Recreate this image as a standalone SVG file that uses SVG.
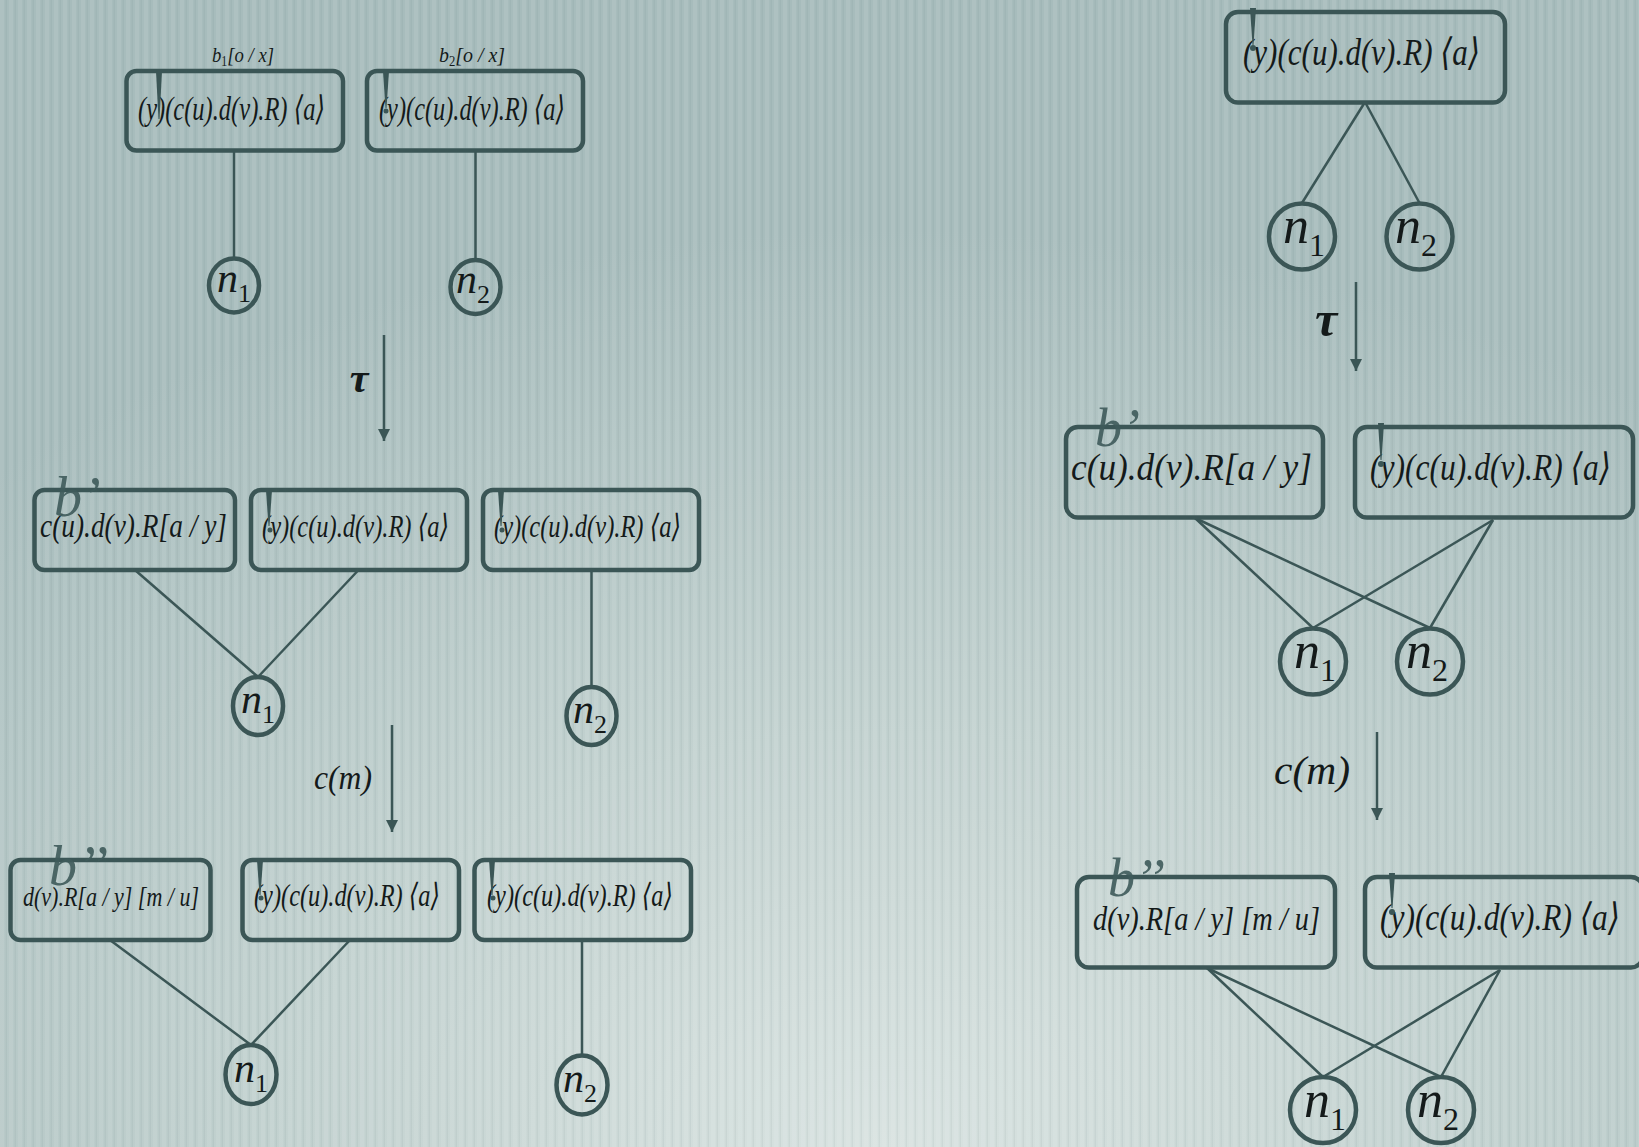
<svg xmlns="http://www.w3.org/2000/svg" width="1639" height="1147" viewBox="0 0 1639 1147">
  <defs>
    <radialGradient id="bgGrad" cx="0.54" cy="1.0" r="0.8" gradientUnits="objectBoundingBox">
      <stop offset="0" stop-color="#d9e3e1"/>
      <stop offset="0.45" stop-color="#c3d2d0"/>
      <stop offset="1" stop-color="#a7bcbc"/>
    </radialGradient>
    <pattern id="stripes" width="9" height="20" patternUnits="userSpaceOnUse">
      <rect x="0" y="0" width="4" height="20" fill="#ffffff" opacity="0.08"/>
      <rect x="5.5" y="0" width="1.5" height="20" fill="#4a6464" opacity="0.07"/>
    </pattern>
    <marker id="arrowDown" markerUnits="userSpaceOnUse" markerWidth="12" markerHeight="12" refX="6" refY="12" orient="0" viewBox="0 0 12 12">
      <path d="M0,0 L12,0 L6,12 Z" fill="#3b5656"/>
    </marker>
  </defs>
  <style>
    .box { fill: none; stroke: #3b5656; stroke-width: 4.5; }
    .node { fill: none; stroke: #3b5656; stroke-width: 4.5; }
    .edge { stroke: #3b5656; stroke-width: 2.5; fill: none; }
    .step { stroke: #3b5656; stroke-width: 2.5; fill: none; marker-end: url(#arrowDown); }
    .nu { fill: #3b5656; }
    text { font-family: "Liberation Serif", "DejaVu Serif", serif; fill: #141a1a; font-style: italic; }
    .up { font-style: normal; }
    .lbl { fill: #3f5b5b; opacity: 0.9; }
    .tau { font-weight: bold; }
  </style>

  <!-- backdrop -->
  <rect width="1639" height="1147" fill="url(#bgGrad)"/>
  <rect width="1639" height="1147" fill="url(#stripes)"/>

  <!-- connectors -->
  <g id="connectors">
    <!-- left, row 1 -->
    <line class="edge" x1="234" y1="150" x2="234" y2="258"/>
    <line class="edge" x1="475.5" y1="150" x2="475.5" y2="260"/>
    <!-- left, row 2 -->
    <line class="edge" x1="135" y1="570" x2="258" y2="677"/>
    <line class="edge" x1="358.5" y1="570" x2="258" y2="677"/>
    <line class="edge" x1="591.5" y1="570" x2="591.5" y2="687"/>
    <!-- left, row 3 -->
    <line class="edge" x1="110" y1="940" x2="251" y2="1045"/>
    <line class="edge" x1="350" y1="940" x2="251" y2="1045"/>
    <line class="edge" x1="582" y1="940" x2="582" y2="1056"/>
    <!-- right, top -->
    <line class="edge" x1="1365" y1="102" x2="1302" y2="203"/>
    <line class="edge" x1="1365" y1="102" x2="1419.5" y2="203"/>
    <!-- right, row 2 -->
    <line class="edge" x1="1195" y1="518" x2="1313" y2="628"/>
    <line class="edge" x1="1195" y1="518" x2="1430" y2="628"/>
    <line class="edge" x1="1493" y1="520" x2="1313" y2="628"/>
    <line class="edge" x1="1493" y1="520" x2="1430" y2="628"/>
    <!-- right, row 3 -->
    <line class="edge" x1="1207" y1="968" x2="1323" y2="1077"/>
    <line class="edge" x1="1207" y1="968" x2="1441" y2="1077"/>
    <line class="edge" x1="1500" y1="970" x2="1323" y2="1077"/>
    <line class="edge" x1="1500" y1="970" x2="1441" y2="1077"/>
    <!-- transition arrows -->
    <line class="step" x1="384" y1="335" x2="384" y2="441"/>
    <line class="step" x1="392" y1="725" x2="392" y2="832"/>
    <line class="step" x1="1356" y1="282" x2="1356" y2="371"/>
    <line class="step" x1="1377" y1="732" x2="1377" y2="820"/>
  </g>

  <!-- transition labels -->
  <g id="step-labels">
    <text class="tau" x="359" y="392" font-size="42" text-anchor="middle">τ</text>
    <text x="343" y="789" font-size="34" text-anchor="middle" textLength="58" lengthAdjust="spacingAndGlyphs">c(m)</text>
    <text class="tau" x="1326" y="336" font-size="50" text-anchor="middle">τ</text>
    <text x="1312" y="784" font-size="40" text-anchor="middle" textLength="76" lengthAdjust="spacingAndGlyphs">c(m)</text>
  </g>

  <!-- left column, row 1 -->
  <g id="L1-box1">
    <text x="243" y="62" font-size="22" text-anchor="middle" textLength="62" lengthAdjust="spacingAndGlyphs">b<tspan class="up" font-size="14" dy="4">1</tspan><tspan dy="-4">[o / x]</tspan></text>
    <rect class="box" x="126.5" y="71" width="216.5" height="79.5" rx="10"/>
    <text x="138" y="120" font-size="34" textLength="187" lengthAdjust="spacingAndGlyphs">(y)(c(u).d(v).R) ⟨a⟩</text>
    <polygon class="nu" points="156,71 162,71 159.5,119 158.5,119"/>
  </g>
  <g id="L1-box2">
    <text x="472" y="62" font-size="22" text-anchor="middle" textLength="66" lengthAdjust="spacingAndGlyphs">b<tspan class="up" font-size="14" dy="4">2</tspan><tspan dy="-4">[o / x]</tspan></text>
    <rect class="box" x="367" y="71" width="216" height="79.5" rx="10"/>
    <text x="379" y="120" font-size="34" textLength="186" lengthAdjust="spacingAndGlyphs">(y)(c(u).d(v).R) ⟨a⟩</text>
    <polygon class="nu" points="383,71 389,71 386.5,108 385.5,108"/>
    <circle class="nu" cx="386" cy="111" r="2.5"/>
  </g>
  <g id="L1-n1">
    <ellipse class="node" cx="234" cy="285.5" rx="25" ry="27"/>
    <text x="234" y="292" font-size="42" text-anchor="middle">n<tspan class="up" font-size="26" dy="10">1</tspan></text>
  </g>
  <g id="L1-n2">
    <ellipse class="node" cx="475.5" cy="287" rx="25" ry="27"/>
    <text x="473" y="293" font-size="42" text-anchor="middle">n<tspan class="up" font-size="26" dy="10">2</tspan></text>
  </g>

  <!-- left column, row 2 -->
  <g id="L2-box1">
    <rect class="box" x="34.5" y="490" width="200.5" height="80" rx="10"/>
    <text x="40" y="537" font-size="34" textLength="187" lengthAdjust="spacingAndGlyphs">c(u).d(v).R[a / y]</text>
    <text class="lbl" x="54" y="516" font-size="56">b’</text>
  </g>
  <g id="L2-box2">
    <rect class="box" x="251" y="490" width="216" height="80" rx="10"/>
    <text x="262" y="537" font-size="32" textLength="187" lengthAdjust="spacingAndGlyphs">(y)(c(u).d(v).R) ⟨a⟩</text>
    <polygon class="nu" points="266,490 272,490 269.5,526 268.5,526"/>
    <circle class="nu" cx="270" cy="530" r="2.5"/>
  </g>
  <g id="L2-box3">
    <rect class="box" x="483" y="490" width="216" height="80" rx="10"/>
    <text x="494" y="537" font-size="32" textLength="187" lengthAdjust="spacingAndGlyphs">(y)(c(u).d(v).R) ⟨a⟩</text>
    <polygon class="nu" points="498,490 504,490 501.5,526 500.5,526"/>
    <circle class="nu" cx="502" cy="530" r="2.5"/>
  </g>
  <g id="L2-n1">
    <ellipse class="node" cx="258" cy="706" rx="25" ry="29"/>
    <text x="258" y="713" font-size="42" text-anchor="middle">n<tspan class="up" font-size="26" dy="10">1</tspan></text>
  </g>
  <g id="L2-n2">
    <ellipse class="node" cx="591.5" cy="716" rx="25" ry="29"/>
    <text x="590" y="723" font-size="42" text-anchor="middle">n<tspan class="up" font-size="26" dy="10">2</tspan></text>
  </g>

  <!-- left column, row 3 -->
  <g id="L3-box1">
    <rect class="box" x="10.5" y="860" width="200" height="80" rx="10"/>
    <text x="23" y="906" font-size="28" textLength="176" lengthAdjust="spacingAndGlyphs">d(v).R[a / y] [m / u]</text>
    <text class="lbl" x="49" y="885" font-size="56">b’’</text>
  </g>
  <g id="L3-box2">
    <rect class="box" x="242.5" y="860" width="216.5" height="80" rx="10"/>
    <text x="254" y="906" font-size="32" textLength="186" lengthAdjust="spacingAndGlyphs">(y)(c(u).d(v).R) ⟨a⟩</text>
    <polygon class="nu" points="257,860 263,860 260.5,895 259.5,895"/>
    <circle class="nu" cx="261" cy="898" r="2.5"/>
  </g>
  <g id="L3-box3">
    <rect class="box" x="474.5" y="860" width="216.5" height="80" rx="10"/>
    <text x="487" y="906" font-size="32" textLength="186" lengthAdjust="spacingAndGlyphs">(y)(c(u).d(v).R) ⟨a⟩</text>
    <polygon class="nu" points="489,860 495,860 492.5,895 491.5,895"/>
    <circle class="nu" cx="493" cy="898" r="2.5"/>
  </g>
  <g id="L3-n1">
    <ellipse class="node" cx="251" cy="1074.5" rx="25.5" ry="29.5"/>
    <text x="251" y="1082" font-size="42" text-anchor="middle">n<tspan class="up" font-size="26" dy="10">1</tspan></text>
  </g>
  <g id="L3-n2">
    <ellipse class="node" cx="582" cy="1085" rx="25.5" ry="29.5"/>
    <text x="580" y="1092" font-size="42" text-anchor="middle">n<tspan class="up" font-size="26" dy="10">2</tspan></text>
  </g>

  <!-- right column, top -->
  <g id="R1-box">
    <rect class="box" x="1226" y="12" width="279" height="90.5" rx="12"/>
    <text x="1243" y="65" font-size="38" textLength="237" lengthAdjust="spacingAndGlyphs">(y)(c(u).d(v).R) ⟨a⟩</text>
    <polygon class="nu" points="1250,8 1256,8 1253.5,45 1252.5,45"/>
    <circle class="nu" cx="1253" cy="48" r="3"/>
  </g>
  <g id="R1-n1">
    <circle class="node" cx="1302" cy="236.5" r="33"/>
    <text x="1304" y="243" font-size="52" text-anchor="middle">n<tspan class="up" font-size="32" dy="13">1</tspan></text>
  </g>
  <g id="R1-n2">
    <circle class="node" cx="1419.5" cy="236.5" r="33"/>
    <text x="1416" y="243" font-size="52" text-anchor="middle">n<tspan class="up" font-size="32" dy="13">2</tspan></text>
  </g>

  <!-- right column, row 2 -->
  <g id="R2-box1">
    <rect class="box" x="1066" y="427" width="257" height="90.5" rx="12"/>
    <text x="1071" y="480" font-size="38" textLength="241" lengthAdjust="spacingAndGlyphs">c(u).d(v).R[a / y]</text>
    <text class="lbl" x="1095" y="446" font-size="54">b’</text>
  </g>
  <g id="R2-box2">
    <rect class="box" x="1355" y="427" width="278" height="90.5" rx="12"/>
    <text x="1370" y="480" font-size="38" textLength="241" lengthAdjust="spacingAndGlyphs">(y)(c(u).d(v).R) ⟨a⟩</text>
    <polygon class="nu" points="1378,423 1384,423 1381.5,460 1380.5,460"/>
    <circle class="nu" cx="1381" cy="464" r="3"/>
  </g>
  <g id="R2-n1">
    <circle class="node" cx="1313" cy="661.5" r="33"/>
    <text x="1315" y="668" font-size="52" text-anchor="middle">n<tspan class="up" font-size="32" dy="13">1</tspan></text>
  </g>
  <g id="R2-n2">
    <circle class="node" cx="1430" cy="661.5" r="33"/>
    <text x="1427" y="668" font-size="52" text-anchor="middle">n<tspan class="up" font-size="32" dy="13">2</tspan></text>
  </g>

  <!-- right column, row 3 -->
  <g id="R3-box1">
    <rect class="box" x="1077" y="877" width="258" height="90.5" rx="12"/>
    <text x="1093" y="930" font-size="34" textLength="227" lengthAdjust="spacingAndGlyphs">d(v).R[a / y] [m / u]</text>
    <text class="lbl" x="1108" y="896" font-size="54">b’’</text>
  </g>
  <g id="R3-box2">
    <rect class="box" x="1365" y="877" width="278" height="90.5" rx="12"/>
    <text x="1380" y="930" font-size="38" textLength="240" lengthAdjust="spacingAndGlyphs">(y)(c(u).d(v).R) ⟨a⟩</text>
    <polygon class="nu" points="1389,873 1395,873 1392.5,908 1391.5,908"/>
    <circle class="nu" cx="1392" cy="912" r="3"/>
  </g>
  <g id="R3-n1">
    <circle class="node" cx="1323" cy="1110" r="33"/>
    <text x="1325" y="1117" font-size="52" text-anchor="middle">n<tspan class="up" font-size="32" dy="13">1</tspan></text>
  </g>
  <g id="R3-n2">
    <circle class="node" cx="1441" cy="1110" r="33"/>
    <text x="1438" y="1117" font-size="52" text-anchor="middle">n<tspan class="up" font-size="32" dy="13">2</tspan></text>
  </g>
</svg>
